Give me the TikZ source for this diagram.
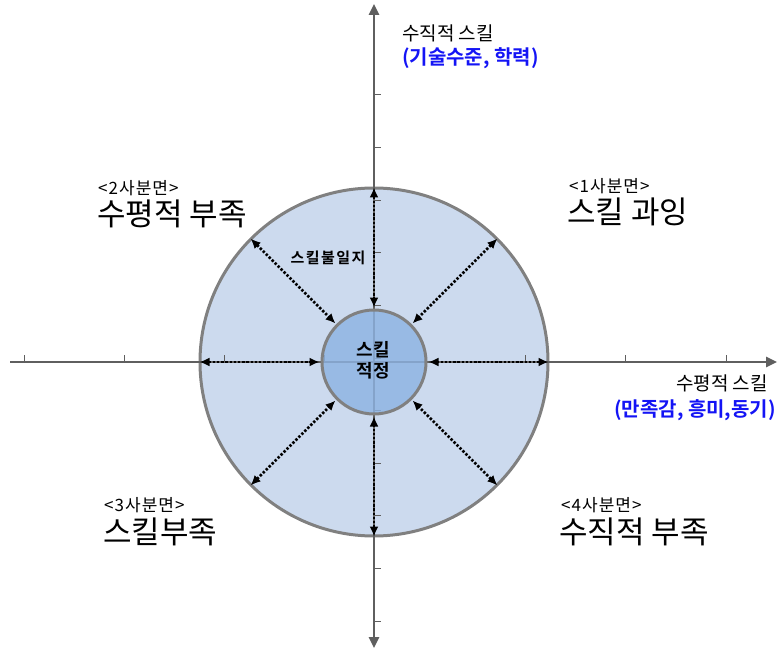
\documentclass[tikz,border=0pt]{standalone}
\usepackage{fontspec}
\newfontfamily\kr{Noto Sans CJK KR}
\newfontfamily\krb{Noto Sans CJK KR Bold}
\newfontfamily\krsp[LetterSpace=6]{Noto Sans CJK KR}
\newfontfamily\krbsp[LetterSpace=10]{Noto Sans CJK KR Bold}
\usetikzlibrary{arrows.meta}
\definecolor{outerfill}{RGB}{204,218,238}
\definecolor{innerfill}{RGB}{141,179,226}
\definecolor{ringgray}{RGB}{128,128,128}
\definecolor{axisgray}{RGB}{95,95,95}
\definecolor{labblue}{RGB}{20,20,245}
\tikzset{
  axisline/.style={draw=axisgray, line width=2.5pt},
  tickmark/.style={draw=axisgray, line width=1pt},
  ring/.style={circle, draw=ringgray, line width=3pt, inner sep=0pt},
  gaparrow/.style={draw=black, line width=2.6pt, dash pattern=on 2.4pt off 1.8pt,
     {Latex[length=10pt,width=9pt]}-{Latex[length=10pt,width=9pt]}, shorten <=1pt, shorten >=1pt},
  quadhead/.style={font=\krsp\fontsize{17}{19}\selectfont, anchor=west, inner sep=0pt},
  quadname/.style={font=\kr\fontsize{31}{34}\selectfont, anchor=west, inner sep=0pt},
  axislabel/.style={font=\kr\fontsize{19}{21}\selectfont, inner sep=0pt},
  axissub/.style={font=\krb\fontsize{20}{22}\selectfont, text=labblue, inner sep=0pt}
}
\begin{document}
\begin{tikzpicture}[x=1pt,y=-1pt]
\useasboundingbox (0,0) rectangle (777,650);
% outer circle
\node[ring, fill=outerfill, minimum size=348pt] (outer) at (374,362) {};
% axes
\coordinate (xl) at (10,362);
\coordinate (xr) at (777,362);
\coordinate (yt) at (374,4);
\coordinate (yb) at (374,648);
\draw[axisline, -{Triangle[length=11pt,width=10pt]}] (xl) -- (xr);
\draw[axisline, {Triangle[length=11pt,width=10pt]}-{Triangle[length=11pt,width=10pt]}] (yt) -- (yb);
\foreach \x in {24,124.3,224.6,324.9,425.2,525.5,625.8,726.1}
  \draw[tickmark] (\x,362) -- (\x,355);
\foreach \k in {0,...,10}
  \draw[tickmark] (374,95+52.6*\k) -- (381,95+52.6*\k);
% inner circle
\node[ring, fill=innerfill, fill opacity=0.82, draw opacity=1, minimum size=104pt] (inner) at (374,362) {};
\node[font=\krb\fontsize{18}{21}\selectfont, align=center, inner sep=0pt] (innertxt) at (373,360) {스킬\\적정};
% gap arrows
\foreach \a in {0,45,...,315}
  \draw[gaparrow] (outer.\a) -- (inner.\a);
% labels
\node[font=\krbsp\fontsize{15}{17}\selectfont, anchor=center, inner sep=0pt] (mismatch) at (328,258) {스킬불일지};
\node[axislabel, anchor=west] (vlab) at (402,33) {수직적 스킬};
\node[axissub, anchor=west] (vsub) at (402,58) {(기술수준, 학력)};
\node[axislabel, anchor=east] (hlab) at (768,383) {수평적 스킬};
\node[axissub, anchor=east] (hsub) at (776,410) {(만족감, 흥미,동기)};
\node[quadhead] (q2h) at (98,188) {<2사분면>};
\node[quadname] (q2n) at (97,214) {수평적 부족};
\node[quadhead] (q1h) at (569,186) {<1사분면>};
\node[quadname] (q1n) at (567,212) {스킬 과잉};
\node[quadhead] (q3h) at (104,505) {<3사분면>};
\node[quadname] (q3n) at (103,532) {스킬부족};
\node[quadhead] (q4h) at (561,505) {<4사분면>};
\node[quadname] (q4n) at (559,532) {수직적 부족};
\end{tikzpicture}
\end{document}
